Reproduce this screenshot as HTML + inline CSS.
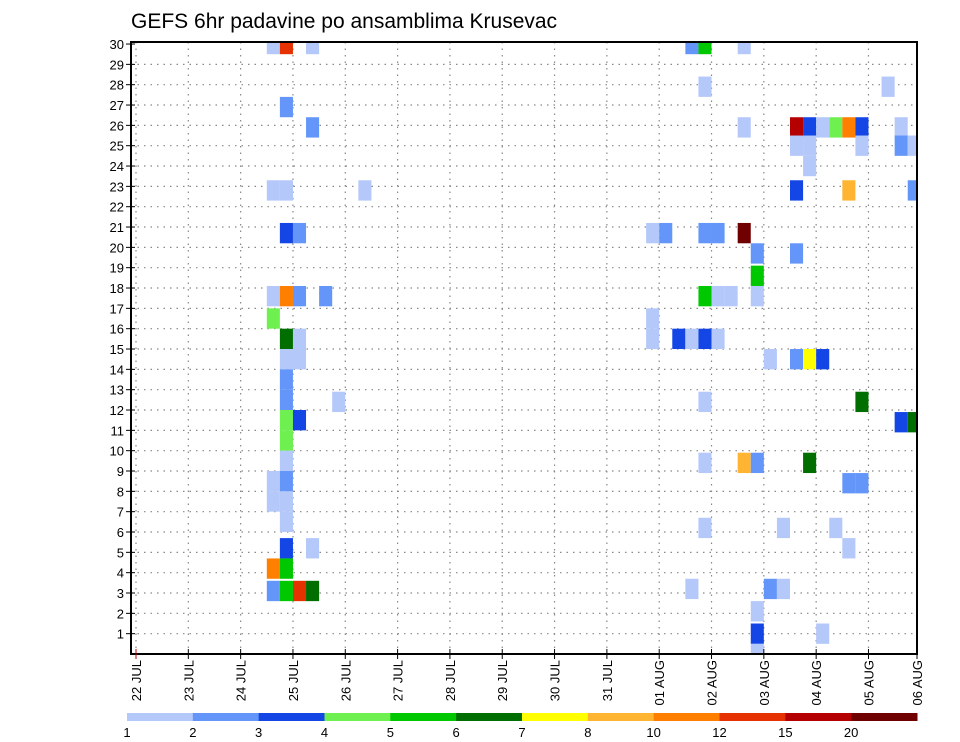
<!DOCTYPE html>
<html><head><meta charset="utf-8">
<style>
html,body{margin:0;padding:0;background:#fff;}
svg{display:block;font-family:"Liberation Sans",sans-serif;}
</style></head>
<body>
<svg id="chart" width="960" height="742" viewBox="0 0 960 742" xmlns="http://www.w3.org/2000/svg">
<text x="131" y="28" font-size="21" fill="#000">GEFS 6hr padavine po ansamblima Krusevac</text>
<g id="grid"></g>
<g id="cells"></g>
<g id="axes"></g>
<g id="legend"></g>
</svg>
<script>
// ---- data ----
const dayLabels = ["22 JUL","23 JUL","24 JUL","25 JUL","26 JUL","27 JUL","28 JUL","29 JUL","30 JUL","31 JUL","01 AUG","02 AUG","03 AUG","04 AUG","05 AUG","06 AUG"];
const memberTicks = [1,2,3,4,5,6,7,8,9,10,11,12,13,14,15,16,17,18,19,20,21,22,23,24,25,26,27,28,29,30];
const levels = [1,2,3,4,5,6,7,8,10,12,15,20,25];
const levelColors = ["#b4c8fa","#6496fa","#1446e6","#6ef050","#00c800","#006e00","#ffff00","#ffb432","#ff8000","#e63200","#b40000","#700000"];
// cells: 6-hour step index since 22 JUL 00Z, ensemble member position, precipitation (mm)
const cellSteps = [
 10,11,13, 11, 13, 10,11,17, 11,12, 10,11,12,14, 10, 11,12, 11,12, 11,11, 11,12, 11, 11, 10,11, 10,11, 11, 11,13, 10,11, 10,11,12,13, 15,
 42,43,46, 43,57, 46,50,51,52,53,54,55,58, 50,51,55,58,59, 51, 50,54,59, 39,40,43,44,46, 47,50, 47, 43,44,45,47, 39, 39,41,42,43,44, 48,50,51,52, 43,55, 58,59, 43,46,47,51, 54,55, 43,49,53, 54, 42,48,49, 47, 47,52, 47
];
const cellMembers = [
 30,30,30, 26.9, 25.9, 22.8,22.8,22.8, 20.7,20.7, 17.6,17.6,17.6,17.6, 16.5, 15.5,15.5, 14.5,14.5, 13.5,12.5, 11.5,11.5, 10.5, 9.5, 8.5,8.5, 7.5,7.5, 6.5, 5.2,5.2, 4.2,4.2, 3.1,3.1,3.1,3.1, 12.4,
 30,30,30, 27.9,27.9, 25.9,25.9,25.9,25.9,25.9,25.9,25.9,25.9, 25,25,25,25,25, 24, 22.8,22.8,22.8, 20.7,20.7,20.7,20.7,20.7, 19.7,19.7, 18.6, 17.6,17.6,17.6,17.6, 16.5, 15.5,15.5,15.5,15.5,15.5, 14.5,14.5,14.5,14.5, 12.4,12.4, 11.4,11.4, 9.4,9.4,9.4,9.4, 8.4,8.4, 6.2,6.2,6.2, 5.2, 3.2,3.2,3.2, 2.1, 1,1, 0
];
const cellValues = [
 1.5,13,1.5, 2.5, 2.5, 1.5,1.5,1.5, 3.5,2.5, 1.5,11,2.5,2.5, 4.5, 6.5,1.5, 1.5,1.5, 2.5,2.5, 4.5,3.5, 4.5, 1.5, 1.5,2.5, 1.5,1.5, 1.5, 3.5,1.5, 11,5.5, 2.5,5.5,13,6.5, 1.5,
 2.5,5.5,1.5, 1.5,1.5, 1.5,17,3.5,1.5,4.5,11,3.5,1.5, 1.5,1.5,1.5,2.5,1.5, 1.5, 3.5,9,2.5, 1.5,2.5,2.5,2.5,22, 2.5,2.5, 5.5, 5.5,1.5,1.5,1.5, 1.5, 1.5,3.5,1.5,3.5,1.5, 1.5,2.5,7.5,3.5, 1.5,6.5, 3.5,6.5, 1.5,9,2.5,6.5, 2.5,2.5, 1.5,1.5,1.5, 1.5, 1.5,2.5,1.5, 1.5, 3.5,1.5, 1.5
];
</script>
<script>
const NS="http://www.w3.org/2000/svg";
const L=131,R=917,T=42,B=654;
const X0=136,DAY=52.32;
function xDay(d){return X0+d*DAY;}
function xStep(s){return X0+s*DAY/4;}
const DY=(B-T)/30.1;
function yMem(m){return B-m*DY;}
function colorFor(v){for(let i=levels.length-2;i>=0;i--){if(v>=levels[i])return levelColors[i];}return "none";}
function mk(tag,attrs,parent){const e=document.createElementNS(NS,tag);for(const k in attrs)e.setAttribute(k,attrs[k]);parent.appendChild(e);return e;}
const svg=document.getElementById('chart');
const defs=mk('defs',{},svg);
const cp=mk('clipPath',{id:'plotclip'},defs);
mk('rect',{x:L,y:T,width:R-L,height:B-T},cp);
const grid=document.getElementById('grid');
memberTicks.forEach(m=>{
  if(m>=30)return;
  const g=mk('line',{x1:L,x2:R,y1:yMem(m),y2:yMem(m),stroke:'#888','stroke-width':1.2,'stroke-dasharray':'1.5 5'},grid);
  
  
});
dayLabels.forEach((d,i)=>{
  const x=xDay(i); if(x<=L+1||x>=R-1)return;
  const g=mk('line',{x1:x,x2:x,y1:T,y2:B,stroke:'#888','stroke-width':1.2,'stroke-dasharray':'1.5 5'},grid);
  
  
});
const cells=document.getElementById('cells');
cells.setAttribute('clip-path','url(#plotclip)');
for(let i=0;i<cellSteps.length;i++){
  const x1=xStep(cellSteps[i]),x2=xStep(cellSteps[i]+1);
  const yc=yMem(cellMembers[i]);
  const r=mk('rect',{x:x1,y:yc-DY/2,width:x2-x1,height:DY,fill:colorFor(cellValues[i])},cells);
  
  
}
const axes=document.getElementById('axes');
const fr=mk('rect',{x:L,y:T,width:R-L,height:B-T,fill:'none',stroke:'#000','stroke-width':2},axes);


memberTicks.forEach(m=>{
  const y=yMem(m);
  mk('line',{x1:L-5,x2:L+4,y1:y,y2:y,stroke:'#000','stroke-width':1},axes);
  const t=mk('text',{x:L-7,y:y+5,'text-anchor':'end','font-size':13,fill:'#000'},axes);
  t.textContent=m;
  
  
});
dayLabels.forEach((d,i)=>{
  const x=Math.min(xDay(i),R);
  mk('line',{x1:x,x2:x,y1:B-5,y2:B+5,stroke:i===0?'#c00':'#000','stroke-width':1},axes);
  const t=mk('text',{x:0,y:0,'text-anchor':'end','font-size':13,fill:'#000',transform:`translate(${x+5},${B+6}) rotate(-90)`},axes);
  t.textContent=d;
  
  
});
const legend=document.getElementById('legend');
const LX0=127,LX1=917,LW=(LX1-LX0)/levelColors.length;
levelColors.forEach((c,i)=>{
  const r=mk('rect',{x:LX0+i*LW,y:713,width:LW+0.5,height:8,fill:c},legend);
  
  
});
levels.slice(0,12).forEach((v,i)=>{
  const t=mk('text',{x:LX0+i*LW,y:737,'text-anchor':'middle','font-size':13,fill:'#000'},legend);
  t.textContent=v;
  
  
});
</script>
</body></html>
